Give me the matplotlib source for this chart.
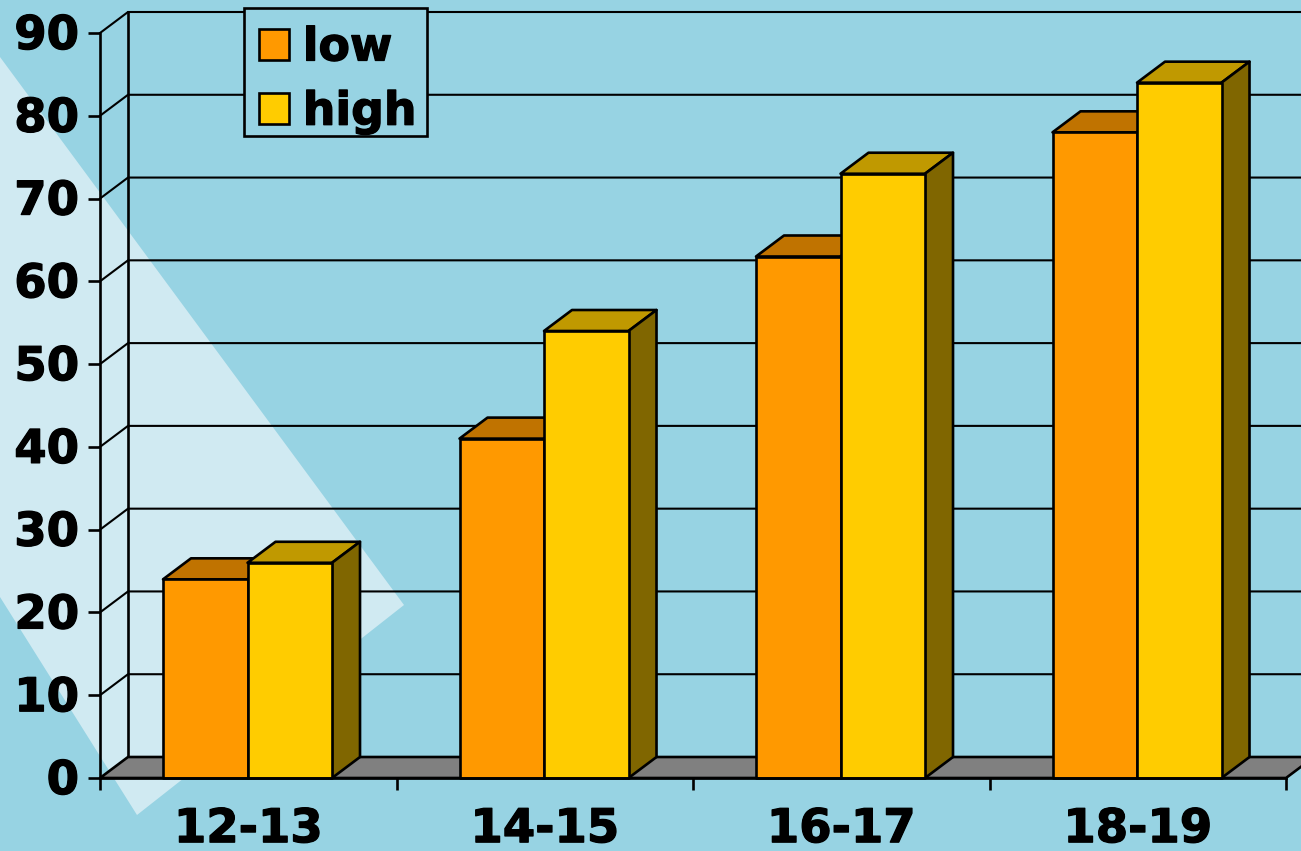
import matplotlib
matplotlib.use("Agg")
import matplotlib.pyplot as plt
from matplotlib.patches import Polygon, Patch, Rectangle
from matplotlib.transforms import ScaledTranslation
import matplotlib.patheffects as pe

categories = ["12-13", "14-15", "16-17", "18-19"]
low = [24, 41, 63, 78]
high = [26, 54, 73, 84]
series_names = ["low", "high"]
y_ticks = list(range(0, 100, 10))

W, H = 1301, 851
BG = "#97d3e3"
BAND = "#d0eaf2"
FS = 33.5
FS_LEG = 33

plt.rcParams["font.family"] = "DejaVu Sans"
plt.rcParams["font.weight"] = "bold"

fig = plt.figure(figsize=(W / 100, H / 100), dpi=100, facecolor=BG)

def fx(p):
    return p / W

def fy(p):
    return 1 - p / H

# decorative light band of the slide background
band_px = [(0, 57), (404, 605), (137, 815), (0, 597)]
fig.patches.append(Polygon([(fx(x), fy(y)) for x, y in band_px], closed=True,
                           transform=fig.transFigure, facecolor=BAND, edgecolor="none",
                           zorder=-1))

ax = fig.add_axes([fx(100), fy(778), (1286 - 100) / W, (778 - 33) / H])
ax.set_facecolor("none")
ax.set_xlim(0, 4)
ax.set_ylim(0, 90)

# depth of the pseudo-3D box, in data units
dx = 28 / (1186 / 4)
dy = 21 / (745 / 90)
LW = 1.9
GLW = 1.5

def poly(pts, fc, z):
    ax.add_patch(Polygon(pts, closed=True, facecolor=fc, edgecolor="black",
                         linewidth=LW, joinstyle="round", clip_on=False, zorder=z))

# floor
poly([(0, 0), (4, 0), (4 + dx, dy), (dx, dy)], "#808080", 2)

# walls: gridlines on back and left wall
for v in y_ticks[1:]:
    ax.plot([0, dx, 4 + dx], [v, v + dy, v + dy], color="black", lw=GLW,
            clip_on=False, zorder=1, solid_joinstyle="miter")
ax.plot([dx, dx], [dy, 90 + dy], color="black", lw=LW, clip_on=False, zorder=1)

# bars
GAP = 0.2125
BW = 0.285

def bar3d(x0, w, v, front, top, side, z):
    poly([(x0, v), (x0 + w, v), (x0 + w + dx, v + dy), (x0 + dx, v + dy)], top, z)
    poly([(x0 + w, 0), (x0 + w + dx, dy), (x0 + w + dx, v + dy), (x0 + w, v)], side, z)
    poly([(x0, 0), (x0 + w, 0), (x0 + w, v), (x0, v)], front, z + 0.1)

for i in range(len(categories)):
    x = i + GAP
    bar3d(x, BW, low[i], "#ff9900", "#c07300", "#805000", 3)
    bar3d(x + BW, BW, high[i], "#ffcc00", "#c09900", "#806600", 4)

# axes
for s in ("top", "right"):
    ax.spines[s].set_visible(False)
for s in ("left", "bottom"):
    ax.spines[s].set_linewidth(LW)
    ax.spines[s].set_zorder(6)

ax.set_yticks(y_ticks)
ax.set_xticks(range(5))
ax.set_xticklabels([])
ax.set_xticks([i + 0.5 for i in range(4)], labels=categories, minor=True)
ax.tick_params(axis="y", length=8.6, width=LW, pad=6.5, labelsize=FS)
ax.tick_params(axis="x", which="major", length=8.6, width=LW)
ax.tick_params(axis="x", which="minor", length=0, pad=21, labelsize=FS)

heavy = [pe.withStroke(linewidth=0.9, foreground="black")]
down = ScaledTranslation(0, -3.5 / 100, fig.dpi_scale_trans)
for t in ax.get_yticklabels():
    t.set_path_effects(heavy)
    t.set_verticalalignment("center")
    t.set_transform(t.get_transform() + down)
for t in ax.get_xticklabels(minor=True):
    t.set_path_effects(heavy)

# legend frame and entries
ax.add_patch(Rectangle((fx(244), fy(136)), 183 / W, 128 / H, transform=fig.transFigure,
                       facecolor=BG, edgecolor="black", linewidth=LW, clip_on=False, zorder=9))
handles = [Patch(facecolor="#ff9900", edgecolor="black", linewidth=LW),
           Patch(facecolor="#ffcc00", edgecolor="black", linewidth=LW)]
leg = ax.legend(handles, series_names, loc="upper left",
                bbox_to_anchor=(fx(259), fy(25.5)), bbox_transform=fig.transFigure,
                fontsize=FS_LEG, frameon=False, handlelength=0.655, handleheight=0.655,
                handletextpad=0.3, labelspacing=0.42, borderpad=0, borderaxespad=0)
leg.set_zorder(10)
for t in leg.get_texts():
    t.set_path_effects(heavy)

fig.savefig("out.png", dpi=100, facecolor=BG)
